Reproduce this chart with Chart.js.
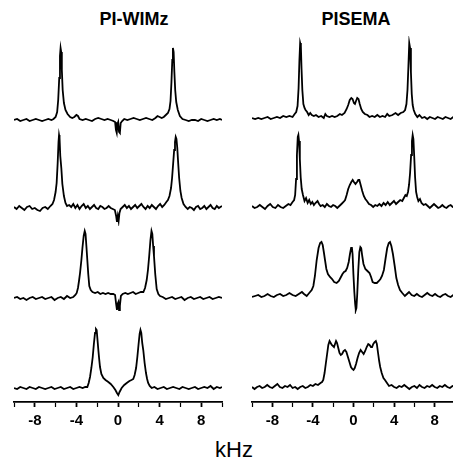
<!DOCTYPE html>
<html>
<head>
<meta charset="utf-8">
<script src="https://cdn.jsdelivr.net/npm/chart.js@4/dist/chart.umd.min.js"></script>
<style>
  html, body { margin: 0; padding: 0; background: #fff; overflow: hidden; }
  #fig { position: relative; width: 453px; height: 460px; overflow: hidden; background: #fff; }
  #fig canvas { position: absolute; }
  .lbl { position: absolute; font-family: "Liberation Sans", Arial, sans-serif; color: #000; white-space: nowrap; transform: translateX(-50%); }
  .ttl { font-size: 18px; font-weight: bold; line-height: 20px; top: 9px; }
  .unit { font-size: 22px; line-height: 26px; top: 437px; left: 234px; }
</style>
</head>
<body>
<div id="fig">
  <div class="lbl ttl" style="left:134px">PI-WIMz</div>
  <div class="lbl ttl" style="left:356px">PISEMA</div>
  <div class="lbl unit">kHz</div>
</div>
<script>
// x in kHz, y = intensity above baseline (arbitrary units)
const xRange = [-10, 10];
const tickStep = 2;
const labelledTicks = [-8, -4, 0, 4, 8];
const titles = ['PI-WIMz', 'PISEMA'];

const pwRow1 = [[-10,0],[-9.7,1],[-9.4,-1],[-9.1,0],[-8.8,1],[-8.5,-1],[-8.2,0],[-7.9,1],[-7.6,0],[-7.3,-1],[-7.0,0],[-6.7,1],[-6.4,0],[-6.2,1],[-6.0,3],[-5.85,8],[-5.75,20],[-5.65,42],[-5.58,64],[-5.52,72],[-5.46,68],[-5.4,50],[-5.32,30],[-5.2,17],[-5.05,10],[-4.85,6],[-4.6,3],[-4.4,2],[-4.2,3],[-4.0,5],[-3.85,4],[-3.7,1],[-3.4,0],[-3.1,1],[-2.8,0],[-2.5,-1],[-2.2,1],[-1.9,2],[-1.6,1],[-1.3,0],[-1.0,1],[-0.7,0],[-0.45,-1],[-0.28,-2],[-0.2,-10],[-0.12,-13],[-0.05,-4],[0.02,-2],[0.1,-12],[0.18,-13],[0.26,-3],[0.4,-1],[0.6,1],[0.9,0],[1.2,1],[1.5,2],[1.8,1],[2.1,0],[2.4,1],[2.7,2],[3.0,1],[3.3,0],[3.6,2],[3.8,4],[4.0,3],[4.2,2],[4.4,3],[4.6,5],[4.8,7],[4.95,11],[5.05,19],[5.14,38],[5.22,60],[5.28,72],[5.35,68],[5.42,48],[5.5,30],[5.6,18],[5.75,10],[5.95,4],[6.2,1],[6.5,0],[6.8,-1],[7.1,0],[7.4,0],[7.7,-1],[8.0,1],[8.3,0],[8.6,-1],[8.9,0],[9.2,1],[9.5,0],[9.8,1],[10,0]];

const pwRow2 = [[-10,1],[-9.75,-1],[-9.5,2],[-9.25,0],[-9.0,-2],[-8.75,1],[-8.5,2],[-8.25,-1],[-8.0,0],[-7.75,-2],[-7.5,-3],[-7.25,0],[-7.0,1],[-6.75,-1],[-6.5,2],[-6.3,4],[-6.15,8],[-6.0,16],[-5.9,25],[-5.8,45],[-5.72,66],[-5.67,73],[-5.62,70],[-5.55,52],[-5.45,40],[-5.35,24],[-5.2,12],[-5.05,5],[-4.9,2],[-4.7,3],[-4.5,1],[-4.3,4],[-4.1,0],[-3.9,3],[-3.7,-1],[-3.5,2],[-3.3,4],[-3.1,0],[-2.9,2],[-2.7,-1],[-2.5,1],[-2.3,3],[-2.1,0],[-1.9,-1],[-1.7,2],[-1.5,1],[-1.3,-1],[-1.1,0],[-0.9,2],[-0.7,0],[-0.5,-1],[-0.3,-2],[-0.18,-8],[-0.1,-14],[-0.02,-8],[0.06,-13],[0.14,-5],[0.25,-1],[0.45,1],[0.65,3],[0.85,0],[1.05,2],[1.25,-1],[1.45,1],[1.65,3],[1.85,0],[2.05,2],[2.25,4],[2.45,1],[2.65,-1],[2.85,2],[3.05,0],[3.25,3],[3.45,1],[3.65,-1],[3.85,2],[4.05,4],[4.25,1],[4.45,3],[4.65,6],[4.8,8],[4.95,12],[5.1,20],[5.2,30],[5.3,44],[5.4,58],[5.48,66],[5.55,71],[5.62,69],[5.7,60],[5.78,46],[5.88,30],[6.0,17],[6.12,10],[6.3,4],[6.5,1],[6.7,-1],[6.9,1],[7.1,0],[7.3,-2],[7.5,1],[7.7,2],[7.9,-1],[8.1,0],[8.3,2],[8.5,-1],[8.7,1],[8.9,3],[9.1,0],[9.3,-1],[9.5,2],[9.7,0],[9.85,1],[10,2]];

const pwRow3 = [[-10,0],[-9.7,1],[-9.4,-1],[-9.1,0],[-8.8,-2],[-8.5,0],[-8.2,1],[-7.9,-1],[-7.6,0],[-7.3,1],[-7.0,-1],[-6.7,0],[-6.4,1],[-6.1,-2],[-5.8,0],[-5.5,1],[-5.2,-1],[-4.9,2],[-4.6,0],[-4.3,1],[-4.1,3],[-3.97,5],[-3.85,10],[-3.75,17],[-3.65,25],[-3.52,38],[-3.42,50],[-3.3,62],[-3.2,67],[-3.12,64],[-3.04,52],[-2.95,38],[-2.86,24],[-2.76,12],[-2.62,8],[-2.45,6],[-2.2,5],[-1.95,6],[-1.7,4],[-1.45,5],[-1.2,4],[-0.95,5],[-0.7,4],[-0.45,4],[-0.28,3],[-0.18,-6],[-0.1,-12],[-0.04,-6],[0.04,-4],[0.1,-12],[0.18,-8],[0.28,2],[0.45,4],[0.7,5],[0.95,4],[1.2,5],[1.45,6],[1.7,4],[1.95,5],[2.2,6],[2.44,6],[2.6,10],[2.76,18],[2.88,28],[3.0,42],[3.12,58],[3.22,67],[3.3,64],[3.38,52],[3.46,42],[3.58,24],[3.72,9],[3.88,4],[4.04,2],[4.3,1],[4.6,-1],[4.9,0],[5.2,1],[5.5,-1],[5.8,0],[6.1,1],[6.4,-2],[6.7,0],[7.0,1],[7.3,-1],[7.6,0],[7.9,1],[8.2,-1],[8.5,0],[8.8,1],[9.1,-1],[9.4,0],[9.7,1],[10,0]];

const pwRow4 = [[-10,0],[-9.7,-1],[-9.4,1],[-9.1,0],[-8.8,-1],[-8.5,1],[-8.2,0],[-7.9,-1],[-7.6,1],[-7.3,0],[-7.0,-1],[-6.7,0],[-6.4,1],[-6.1,-1],[-5.8,0],[-5.5,1],[-5.2,-1],[-4.9,0],[-4.6,1],[-4.3,-1],[-4.0,0],[-3.7,1],[-3.4,0],[-3.15,1],[-2.95,1],[-2.82,5],[-2.69,11],[-2.56,20],[-2.43,31],[-2.32,44],[-2.21,55],[-2.12,59],[-2.05,58],[-1.97,48],[-1.89,38],[-1.81,29],[-1.73,21],[-1.6,14],[-1.41,10],[-1.2,8],[-0.93,6],[-0.7,4],[-0.45,1],[-0.25,-2],[-0.1,-5],[0.03,-7],[0.15,-4],[0.35,0],[0.6,3],[0.84,5],[1.1,7],[1.3,8],[1.47,9],[1.6,13],[1.74,20],[1.86,31],[1.98,44],[2.08,54],[2.16,58],[2.24,55],[2.33,45],[2.43,38],[2.56,25],[2.69,15],[2.8,9],[2.9,5],[3.05,2],[3.24,0],[3.5,1],[3.8,-1],[4.1,0],[4.4,1],[4.7,-1],[5.0,0],[5.3,1],[5.6,0],[5.9,-1],[6.2,1],[6.5,0],[6.8,-1],[7.1,0],[7.4,1],[7.7,-1],[8.0,0],[8.3,1],[8.6,0],[8.9,2],[9.2,-1],[9.5,1],[9.8,0],[10,1]];

const psRow1 = [[-10,0],[-9.7,-1],[-9.4,0],[-9.1,-1],[-8.8,0],[-8.5,1],[-8.2,-1],[-7.9,0],[-7.6,1],[-7.3,0],[-7.0,2],[-6.7,1],[-6.4,2],[-6.1,1],[-5.9,4],[-5.75,6],[-5.62,12],[-5.52,30],[-5.44,58],[-5.37,75],[-5.3,72],[-5.24,50],[-5.16,28],[-5.06,14],[-4.95,10],[-4.85,8],[-4.7,6],[-4.55,3],[-4.4,5],[-4.25,3],[-4.05,2],[-3.85,3],[-3.6,1],[-3.35,2],[-3.1,0],[-2.95,4],[-2.8,2],[-2.55,1],[-2.3,2],[-2.05,1],[-1.8,2],[-1.55,4],[-1.35,3],[-1.1,5],[-0.9,9],[-0.75,13],[-0.6,18],[-0.45,20],[-0.33,19],[-0.2,15],[-0.1,14],[0.0,17],[0.12,20],[0.24,19],[0.36,14],[0.5,9],[0.65,6],[0.85,4],[1.1,3],[1.3,1],[1.55,2],[1.8,1],[2.05,3],[2.3,1],[2.55,2],[2.8,1],[3.0,4],[3.2,2],[3.5,3],[3.8,5],[4.05,3],[4.3,5],[4.55,6],[4.72,8],[4.85,14],[4.95,28],[5.04,52],[5.12,75],[5.2,70],[5.28,46],[5.36,24],[5.45,13],[5.55,8],[5.7,4],[5.9,1],[6.1,3],[6.35,0],[6.6,1],[6.85,-1],[7.1,1],[7.35,0],[7.6,-1],[7.85,1],[8.1,0],[8.35,-1],[8.6,1],[8.85,0],[9.1,-1],[9.35,1],[9.6,0],[9.8,1],[10,0]];

const psRow2 = [[-10,1],[-9.75,-1],[-9.5,0],[-9.25,2],[-9.0,0],[-8.75,-2],[-8.5,1],[-8.25,3],[-8.0,0],[-7.75,-1],[-7.5,2],[-7.25,0],[-7.0,-1],[-6.75,1],[-6.5,3],[-6.3,2],[-6.1,5],[-5.95,7],[-5.85,12],[-5.76,28],[-5.68,52],[-5.6,70],[-5.54,72],[-5.48,66],[-5.4,48],[-5.32,30],[-5.22,18],[-5.1,12],[-4.95,6],[-4.8,9],[-4.65,4],[-4.5,7],[-4.35,3],[-4.2,5],[-4.05,2],[-3.9,4],[-3.7,6],[-3.55,3],[-3.4,1],[-3.2,2],[-3.0,0],[-2.8,3],[-2.6,1],[-2.4,0],[-2.2,2],[-2.0,1],[-1.8,-1],[-1.6,1],[-1.4,3],[-1.2,5],[-1.05,7],[-0.9,12],[-0.75,18],[-0.6,22],[-0.45,25],[-0.32,27],[-0.2,25],[-0.05,23],[0.1,25],[0.22,27],[0.32,27],[0.45,22],[0.6,16],[0.75,11],[0.9,8],[1.05,6],[1.25,3],[1.45,2],[1.65,0],[1.85,2],[2.05,1],[2.25,3],[2.45,1],[2.65,4],[2.85,2],[3.05,5],[3.25,2],[3.45,4],[3.65,6],[3.85,3],[4.05,5],[4.25,7],[4.45,6],[4.6,9],[4.75,12],[4.88,11],[5.0,15],[5.1,22],[5.2,34],[5.3,52],[5.38,66],[5.45,72],[5.52,68],[5.6,50],[5.68,30],[5.78,15],[5.88,10],[6.0,6],[6.15,8],[6.3,4],[6.5,2],[6.7,3],[6.9,1],[7.1,-1],[7.3,1],[7.5,3],[7.7,1],[7.9,-1],[8.1,0],[8.3,2],[8.5,0],[8.7,-1],[8.9,1],[9.1,2],[9.3,0],[9.5,-1],[9.7,1],[10,0]];

const psRow3 = [[-10,-1],[-9.7,0],[-9.4,1],[-9.1,-1],[-8.8,0],[-8.5,2],[-8.2,0],[-7.9,-1],[-7.6,1],[-7.3,2],[-7.0,0],[-6.7,1],[-6.4,3],[-6.1,1],[-5.8,0],[-5.5,2],[-5.2,4],[-5.0,2],[-4.74,0],[-4.5,3],[-4.26,6],[-4.1,10],[-3.95,20],[-3.78,36],[-3.6,48],[-3.45,53],[-3.32,54],[-3.2,51],[-3.08,43],[-2.98,36],[-2.85,27],[-2.7,22],[-2.5,19],[-2.3,17],[-2.1,14],[-1.86,13],[-1.65,15],[-1.45,19],[-1.3,22],[-1.15,24],[-1.0,25],[-0.85,28],[-0.7,34],[-0.58,42],[-0.47,48],[-0.4,49],[-0.33,42],[-0.25,22],[-0.16,4],[-0.08,-8],[-0.02,-14],[0.04,-12],[0.12,2],[0.22,26],[0.32,44],[0.42,49],[0.5,48],[0.6,40],[0.72,32],[0.9,27],[1.1,25],[1.3,23],[1.45,19],[1.6,14],[1.8,13],[2.0,13],[2.2,15],[2.35,17],[2.5,20],[2.68,26],[2.85,38],[3.0,48],[3.15,53],[3.27,54],[3.4,50],[3.55,42],[3.72,30],[3.88,18],[4.05,11],[4.23,6],[4.45,3],[4.7,0],[4.9,2],[5.1,4],[5.35,1],[5.6,0],[5.85,2],[6.1,0],[6.35,-1],[6.6,1],[6.85,3],[7.1,1],[7.35,0],[7.6,2],[7.85,0],[8.1,-1],[8.35,1],[8.6,2],[8.85,0],[9.1,-1],[9.35,1],[9.6,0],[9.8,1],[10,0]];

const psRow4 = [[-10,0],[-9.75,-2],[-9.5,0],[-9.25,1],[-9.0,-1],[-8.75,0],[-8.5,2],[-8.25,0],[-8.0,-1],[-7.75,1],[-7.5,3],[-7.25,0],[-7.0,-1],[-6.75,1],[-6.5,0],[-6.25,2],[-6.0,-1],[-5.75,0],[-5.5,-2],[-5.25,0],[-5.0,1],[-4.75,-1],[-4.5,0],[-4.25,2],[-4.0,1],[-3.75,3],[-3.5,2],[-3.25,4],[-3.1,5],[-2.98,7],[-2.85,14],[-2.72,24],[-2.6,33],[-2.48,42],[-2.36,46],[-2.25,44],[-2.14,42],[-2.02,41],[-1.92,40],[-1.82,43],[-1.72,46],[-1.62,44],[-1.5,39],[-1.38,34],[-1.25,32],[-1.12,33],[-0.98,36],[-0.84,37],[-0.7,35],[-0.55,30],[-0.4,25],[-0.25,20],[-0.12,18],[0.0,17],[0.12,19],[0.25,23],[0.4,29],[0.55,34],[0.7,37],[0.85,35],[1.0,33],[1.15,36],[1.3,40],[1.45,43],[1.58,42],[1.72,40],[1.83,40],[1.95,43],[2.08,45],[2.2,46],[2.3,43],[2.42,34],[2.53,26],[2.63,20],[2.78,14],[2.95,9],[3.1,7],[3.3,4],[3.5,1],[3.75,2],[4.0,0],[4.25,-1],[4.5,1],[4.75,0],[5.0,2],[5.25,0],[5.5,-2],[5.75,0],[6.0,1],[6.25,-1],[6.5,2],[6.75,0],[7.0,-1],[7.25,1],[7.5,0],[7.75,2],[8.0,0],[8.25,-1],[8.5,1],[8.75,0],[9.0,2],[9.25,0],[9.5,-1],[9.75,1],[10,0]];

// layout (pixels)
const AXIS_Y = 402, TOP_ROOM = 82, DOWN_ROOM = 18, AXIS_H = 30;
const columns = [
  { left: 0,   width: 230, padL: 14, padR: 8, baselines: [120, 208, 298, 388], rows: [pwRow1, pwRow2, pwRow3, pwRow4] },
  { left: 230, width: 230, padL: 22, padR: 0, baselines: [118, 207, 296, 387], rows: [psRow1, psRow2, psRow3, psRow4] },
];

const fig = document.getElementById('fig');
const FONT = '"Liberation Sans", Arial, sans-serif';

function makeSpectrum(col, points, baseline, withAxis) {
  const canvas = document.createElement('canvas');
  const yMin = withAxis ? -(AXIS_Y - baseline) : -DOWN_ROOM;
  const h = TOP_ROOM - yMin + (withAxis ? AXIS_H : 0);
  canvas.width = col.width;
  canvas.height = h;
  canvas.style.left = col.left + 'px';
  canvas.style.top = (baseline - TOP_ROOM) + 'px';
  fig.appendChild(canvas);

  const xScale = {
    type: 'linear',
    min: xRange[0],
    max: xRange[1],
    display: withAxis,
    border: { display: true, color: '#000', width: 1.8 },
    grid: {
      display: true,
      drawOnChartArea: false,
      drawTicks: true,
      tickLength: 5,
      tickColor: '#000',
      tickWidth: (ctx) => (labelledTicks.includes(ctx.tick && ctx.tick.value) ? 1.8 : 1.2),
    },
    ticks: {
      stepSize: tickStep,
      autoSkip: false,
      maxRotation: 0,
      padding: 5,
      color: '#000',
      font: { family: FONT, size: 15, weight: 'bold' },
      callback: (v) => (labelledTicks.includes(v) ? String(v) : ''),
    },
  };
  if (withAxis) xScale.afterFit = (scale) => { scale.height = AXIS_H; };

  new Chart(canvas, {
    type: 'line',
    data: {
      datasets: [{
        data: points,
        borderColor: '#000',
        borderWidth: 1.8,
        pointRadius: 0,
        tension: 0,
        fill: false,
      }],
    },
    options: {
      responsive: false,
      animation: false,
      events: [],
      layout: { padding: { left: col.padL, right: col.padR, top: 0, bottom: 0 } },
      plugins: { legend: { display: false }, tooltip: { enabled: false } },
      scales: {
        x: xScale,
        y: { display: false, min: yMin, max: TOP_ROOM },
      },
    },
  });
}

columns.forEach((col) => {
  col.rows.forEach((points, i) => {
    makeSpectrum(col, points, col.baselines[i], i === col.rows.length - 1);
  });
});
</script>
</body>
</html>
